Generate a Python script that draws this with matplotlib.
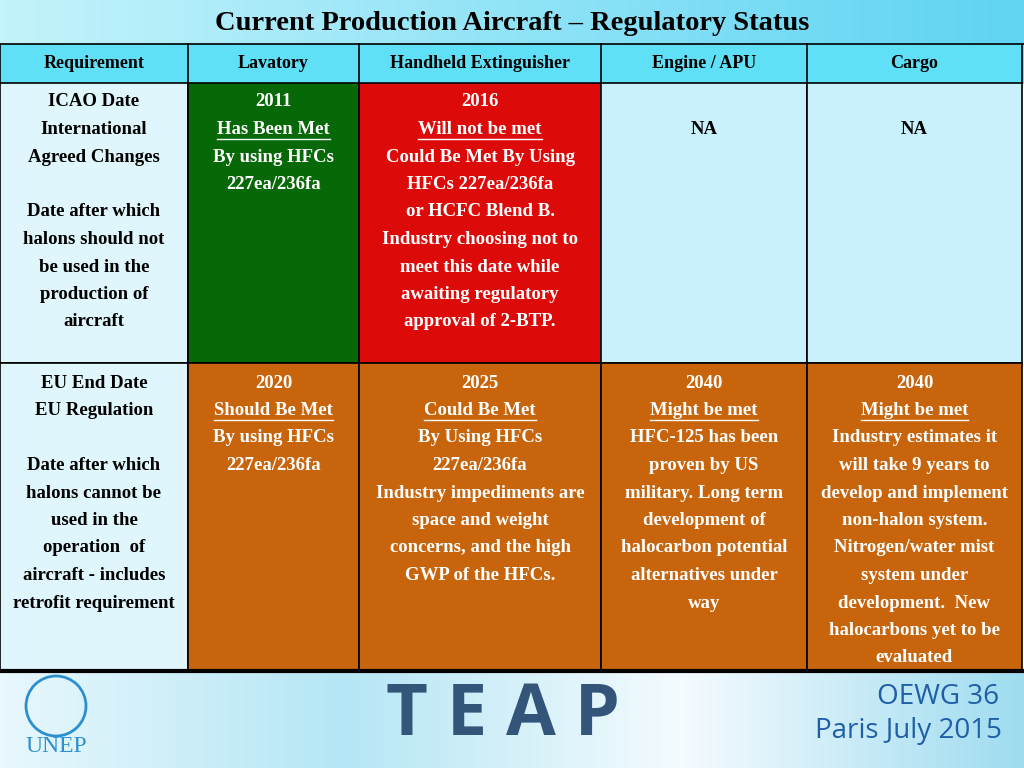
import numpy as np
import matplotlib.pyplot as plt
from matplotlib.patches import Rectangle
from matplotlib.colors import LinearSegmentedColormap

title = "Current Production Aircraft \u2013 Regulatory Status"
headers = ["Requirement", "Lavatory", "Handheld Extinguisher", "Engine / APU", "Cargo"]

row1 = [
    ["ICAO Date", "International", "Agreed Changes", "", "Date after which",
     "halons should not", "be used in the", "production of", "aircraft"],
    ["2011", "Has Been Met", "By using HFCs", "227ea/236fa"],
    ["2016", "Will not be met", "Could Be Met By Using", "HFCs 227ea/236fa",
     "or HCFC Blend B.", "Industry choosing not to", "meet this date while",
     "awaiting regulatory", "approval of 2-BTP."],
    ["", "NA"],
    ["", "NA"],
]
row2 = [
    ["EU End Date", "EU Regulation", "", "Date after which", "halons cannot be",
     "used in the", "operation  of", "aircraft - includes", "retrofit requirement"],
    ["2020", "Should Be Met", "By using HFCs", "227ea/236fa"],
    ["2025", "Could Be Met", "By Using HFCs", "227ea/236fa",
     "Industry impediments are", "space and weight", "concerns, and the high",
     "GWP of the HFCs."],
    ["2040", "Might be met", "HFC-125 has been", "proven by US",
     "military. Long term", "development of", "halocarbon potential",
     "alternatives under", "way"],
    ["2040", "Might be met", "Industry estimates it", "will take 9 years to",
     "develop and implement", "non-halon system.", "Nitrogen/water mist",
     "system under", "development.  New", "halocarbons yet to be", "evaluated"],
]
row1_colors = ["#dff6fc", "#076807", "#dd0a0a", "#c9f1fb", "#c9f1fb"]
row2_colors = ["#dff6fc", "#c8650c", "#c8650c", "#c8650c", "#c8650c"]

cols = [0, 188, 359, 601, 807, 1022]
rows = [0, 44, 83, 363, 671]

fig = plt.figure(figsize=(10.24, 7.68), dpi=100)
ax = fig.add_axes([0, 0, 1, 1])
ax.set_xlim(0, 1024)
ax.set_ylim(768, 0)
ax.axis("off")

grad = np.linspace(0, 1, 256).reshape(1, -1)
cm_top = LinearSegmentedColormap.from_list("t", ["#c4f3fb", "#5fd4f3"])
ax.imshow(grad, cmap=cm_top, extent=[0, 1024, 44, 0], aspect="auto", zorder=0)
ax.add_patch(Rectangle((0, 44), 1024, 39, color="#5fe0f6", zorder=1))
cm_bot = LinearSegmentedColormap.from_list("b", ["#e8f8fd", "#b5e6f5", "#f4fbfe", "#9fdcf0"])
ax.imshow(grad, cmap=cm_bot, extent=[0, 1024, 768, 671], aspect="auto", zorder=0)

font = dict(family="Liberation Serif", weight="bold")
ax.text(512, 24, title, ha="center", va="center", fontsize=20.5, **font, zorder=5)
for i, h in enumerate(headers):
    ax.text((cols[i] + cols[i + 1]) / 2, 63, h, ha="center", va="center", fontsize=13, **font, zorder=5)

fig.canvas.draw()
rend = fig.canvas.get_renderer()


def fill_row(cells, colors, top, bottom, y0):
    for i, (lines, c) in enumerate(zip(cells, colors)):
        ax.add_patch(Rectangle((cols[i], top), cols[i + 1] - cols[i], bottom - top,
                               facecolor=c, edgecolor="black", lw=1.2, zorder=2))
        tc = "black" if i == 0 or c.startswith("#c9") else "white"
        cx = (cols[i] + cols[i + 1]) / 2
        for k, s in enumerate(lines):
            y = y0 + k * 27.5
            t = ax.text(cx, y, s, ha="center", va="center", fontsize=13.5, color=tc, **font, zorder=5)
            if k == 1 and i > 0 and tc == "white":
                bb = t.get_window_extent(rend).transformed(ax.transData.inverted())
                ax.plot([bb.x0, bb.x1], [y + 9, y + 9], color=tc, lw=1, zorder=5)


fill_row(row1, row1_colors, rows[2], rows[3], 102)
fill_row(row2, row2_colors, rows[3], rows[4], 383)
for x in cols:
    ax.plot([x, x], [44, 83], color="black", lw=1.2, zorder=3)
ax.plot([0, 1024], [44, 44], color="black", lw=1.2, zorder=3)
ax.plot([0, 1024], [671, 671], color="black", lw=3, zorder=3)

# footer
ax.text(503, 716, "T E A P", ha="center", va="center", fontsize=52, weight="bold",
        family="Open Sans", color="#33557a", zorder=5)
ax.text(938, 697, "OEWG 36", ha="center", va="center", fontsize=20, family="Open Sans", color="#1f5fa8", zorder=5)
ax.text(908, 731, "Paris July 2015", ha="center", va="center", fontsize=20, family="Open Sans", color="#1f5fa8", zorder=5)
ax.add_patch(plt.Circle((56, 706), 30, facecolor="none", edgecolor="#2c8fd0", lw=2, zorder=5))
ax.text(56, 746, "UNEP", ha="center", va="center", fontsize=17, family="Liberation Serif", color="#2c8fd0", zorder=5)

fig.savefig("out.png", dpi=100)
